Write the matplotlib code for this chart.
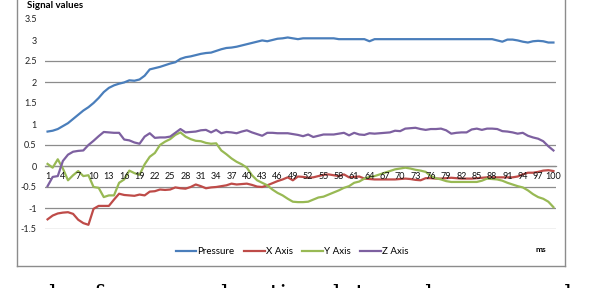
import matplotlib
matplotlib.use("Agg")
import matplotlib.pyplot as plt
from matplotlib.lines import Line2D
import numpy as np

plt.rcParams['font.family'] = ['Lato', 'DejaVu Sans']

ms_index = list(range(1, 101))
pressure = [0.82, 0.84, 0.88, 0.95, 1.02, 1.12, 1.22, 1.32, 1.40, 1.50,
            1.62, 1.76, 1.86, 1.92, 1.96, 1.99, 2.04, 2.03, 2.06, 2.15,
            2.30, 2.33, 2.36, 2.40, 2.44, 2.47, 2.55, 2.59, 2.61, 2.64,
            2.67, 2.69, 2.70, 2.74, 2.78, 2.81, 2.82, 2.84, 2.87, 2.90,
            2.93, 2.96, 2.99, 2.97, 3.00, 3.03, 3.04, 3.06, 3.04, 3.02,
            3.04, 3.04, 3.04, 3.04, 3.04, 3.04, 3.04, 3.02, 3.02, 3.02,
            3.02, 3.02, 3.02, 2.97, 3.02, 3.02, 3.02, 3.02, 3.02, 3.02,
            3.02, 3.02, 3.02, 3.02, 3.02, 3.02, 3.02, 3.02, 3.02, 3.02,
            3.02, 3.02, 3.02, 3.02, 3.02, 3.02, 3.02, 3.02, 2.99, 2.96,
            3.01, 3.01, 2.99, 2.96, 2.94, 2.97, 2.98, 2.97, 2.94, 2.94]
x_axis = [-1.27, -1.18, -1.13, -1.11, -1.10, -1.14, -1.28, -1.36, -1.40, -1.02,
          -0.95, -0.95, -0.95, -0.80, -0.66, -0.69, -0.70, -0.71, -0.68, -0.70,
          -0.61, -0.60, -0.56, -0.57, -0.56, -0.51, -0.53, -0.54, -0.50, -0.44,
          -0.48, -0.53, -0.51, -0.50, -0.48, -0.46, -0.42, -0.44, -0.43, -0.42,
          -0.45, -0.49, -0.50, -0.46, -0.41, -0.36, -0.32, -0.27, -0.34, -0.25,
          -0.26, -0.28, -0.27, -0.24, -0.21, -0.20, -0.22, -0.24, -0.20, -0.27,
          -0.26, -0.25, -0.30, -0.31, -0.32, -0.32, -0.32, -0.32, -0.32, -0.31,
          -0.30, -0.31, -0.33, -0.34, -0.29, -0.29, -0.30, -0.30, -0.29, -0.28,
          -0.29, -0.30, -0.30, -0.30, -0.29, -0.28, -0.27, -0.27, -0.27, -0.27,
          -0.27, -0.27, -0.25, -0.20, -0.16, -0.16, -0.14, -0.11, -0.10, -0.12]
y_axis = [0.05, -0.04, 0.16, -0.06, -0.34, -0.22, -0.12, -0.24, -0.22, -0.50,
          -0.52, -0.74, -0.70, -0.70, -0.40, -0.32, -0.11, -0.17, -0.21, 0.04,
          0.22, 0.31, 0.50, 0.58, 0.64, 0.74, 0.80, 0.70, 0.64, 0.60,
          0.59, 0.55, 0.53, 0.54, 0.37, 0.28, 0.18, 0.10, 0.04, -0.04,
          -0.22, -0.34, -0.40, -0.46, -0.56, -0.64, -0.70, -0.78, -0.85, -0.86,
          -0.86, -0.85, -0.80, -0.75, -0.73, -0.68, -0.63, -0.58, -0.52, -0.48,
          -0.40, -0.37, -0.30, -0.26, -0.24, -0.20, -0.16, -0.12, -0.08, -0.06,
          -0.04, -0.06, -0.09, -0.11, -0.14, -0.24, -0.29, -0.32, -0.36, -0.38,
          -0.38, -0.38, -0.38, -0.38, -0.38, -0.35, -0.30, -0.31, -0.32, -0.35,
          -0.40, -0.44, -0.48, -0.51, -0.58, -0.67, -0.74, -0.78, -0.85, -0.98]
z_axis = [-0.48, -0.26, -0.24, 0.12, 0.27, 0.34, 0.36, 0.37, 0.50, 0.60,
          0.71, 0.81, 0.80, 0.79, 0.79, 0.63, 0.61, 0.56, 0.53, 0.70,
          0.78, 0.67, 0.68, 0.68, 0.70, 0.79, 0.88, 0.80, 0.81, 0.82,
          0.85, 0.86, 0.80, 0.86, 0.78, 0.81, 0.80, 0.78, 0.82, 0.85,
          0.80, 0.76, 0.72, 0.79, 0.79, 0.78, 0.78, 0.78, 0.76, 0.74,
          0.71, 0.75, 0.69, 0.72, 0.75, 0.75, 0.75, 0.77, 0.79, 0.73,
          0.79, 0.75, 0.74, 0.78, 0.77, 0.78, 0.79, 0.80, 0.84, 0.83,
          0.89, 0.90, 0.91, 0.88, 0.86, 0.88, 0.88, 0.89, 0.85, 0.77,
          0.79, 0.80, 0.80, 0.87, 0.89, 0.86, 0.89, 0.89, 0.88, 0.83,
          0.82, 0.80, 0.77, 0.79, 0.72, 0.68, 0.65, 0.59, 0.47, 0.37]

series_names = ["Pressure", "X Axis", "Y Axis", "Z Axis"]
series_colors = ["#4A7EBB", "#BE4B48", "#98B954", "#7D60A0"]
y_ticks = [-1.5, -1, -0.5, 0, 0.5, 1, 1.5, 2, 2.5, 3, 3.5]
y_tick_labels = ["-1.5", "-1", "-0.5", "0", "0.5", "1", "1.5", "2", "2.5", "3", "3.5"]
grid_levels = [-1.5, -1, -0.5, 0, 0.5, 2, 2.5]
x_ticks = list(range(1, 101, 3))

W, H = 590, 288
fig = plt.figure(figsize=(W / 100, H / 100), dpi=100)
ax = fig.add_axes([45 / W, (H - 229) / H, (556 - 45) / W, (229 - 19) / H])

grid_col = "#8C8C8C"
for v in grid_levels:
    ax.axhline(v, color=grid_col, lw=0.9, zorder=1)

for vals, name, col in zip([pressure, x_axis, y_axis, z_axis], series_names, series_colors):
    ax.plot(ms_index, vals, color=col, lw=1.6, label=name, zorder=2,
            solid_joinstyle='round')

ax.set_xlim(0.5, 100.5)
ax.set_ylim(-1.5, 3.5)
ax.set_yticks(y_ticks)
ax.set_yticklabels(y_tick_labels)
ax.set_xticks(x_ticks)
ax.set_xticklabels([str(t) for t in x_ticks])
for s in ["top", "right", "left"]:
    ax.spines[s].set_visible(False)
ax.spines["bottom"].set_position(("data", 0))
ax.spines["bottom"].set_color(grid_col)
ax.spines["bottom"].set_linewidth(0.9)
ax.spines["bottom"].set_zorder(1)
ax.set_axisbelow(False)
ax.tick_params(axis="y", length=0, pad=6, labelsize=6.5, labelcolor="#222222")
ax.tick_params(axis="x", length=0, pad=4, labelsize=6.5, labelcolor="#111111")
for lab in ax.get_xticklabels():
    lab.set_zorder(5)

fig.text(27 / W, 1 - 6 / H, "Signal values", fontsize=7, fontweight="bold",
         ha="left", va="center")
fig.text(541 / W, 1 - 249 / H, "ms", fontsize=6, fontweight="bold",
         ha="center", va="center")

leg = fig.legend(loc="center", bbox_to_anchor=(292 / W, 1 - 252 / H), ncol=4,
                 frameon=False, fontsize=7, handlelength=2.1, handletextpad=0.1,
                 columnspacing=1.0, borderaxespad=0, borderpad=0)

border_col = "#8C8C8C"
fig.add_artist(Line2D([17 / W, 17 / W], [1, 1 - 266 / H], transform=fig.transFigure,
                      color=border_col, lw=1.0))
fig.add_artist(Line2D([17 / W, 565 / W], [1 - 266 / H, 1 - 266 / H], transform=fig.transFigure,
                      color=border_col, lw=1.0))
fig.add_artist(Line2D([565 / W, 565 / W], [1, 1 - 266 / H], transform=fig.transFigure,
                      color=border_col, lw=1.0))

fig.text(-4 / W, 1 - 302 / H, "ample of raw acceleration data and pressure d",
         fontsize=17.5, family=["DejaVu Serif"], ha="left", va="baseline")

fig.savefig("out.png", dpi=100)
